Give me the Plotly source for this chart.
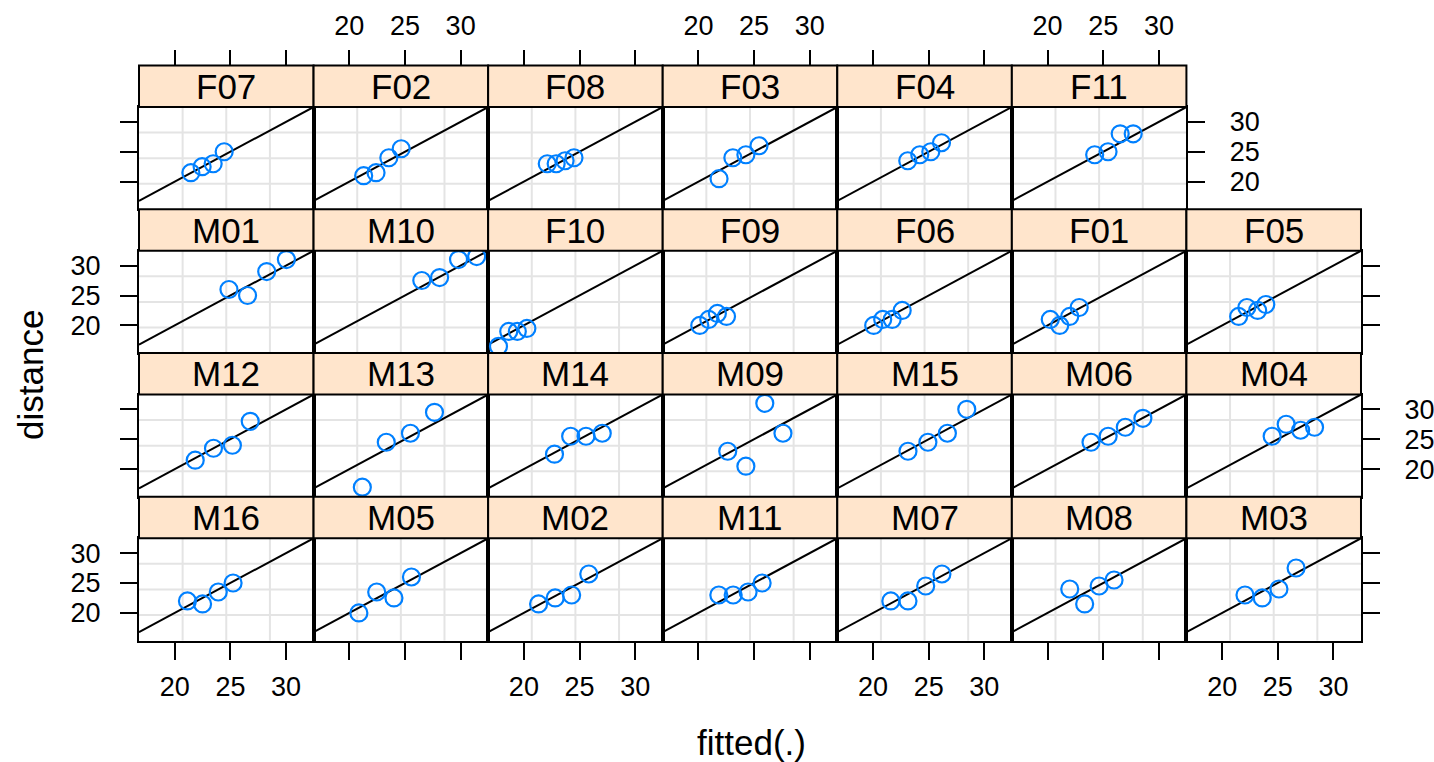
import plotly.graph_objects as go

# ---------------- data (Orthodont: distance vs fitted, by Subject) ----------------
subjects = ["F07", "F02", "F08", "F03", "F04", "F11",
            "M01", "M10", "F10", "F09", "F06", "F01", "F05",
            "M12", "M13", "M14", "M09", "M15", "M06", "M04",
            "M16", "M05", "M02", "M11", "M07", "M08", "M03"]

fitted_age8 = [21.45, 21.29, 22.10, 21.85, 23.12, 24.23,
               24.87, 26.51, 17.72, 20.12, 20.06, 20.24, 21.48,
               21.84, 21.17, 22.75, 22.63, 23.14, 23.90, 24.49,
               21.14, 20.86, 21.32, 21.83, 21.60, 21.99, 22.05]
fitted_age10 = [22.46, 22.40, 22.90, 23.09, 24.20, 25.43,
                26.54, 28.11, 18.64, 20.93, 20.87, 21.09, 22.22,
                23.48, 23.32, 24.20, 24.26, 24.93, 25.44, 25.75,
                22.50, 22.46, 22.81, 23.12, 23.14, 23.33, 23.60]
fitted_age12 = [23.45, 23.55, 23.70, 24.26, 25.19, 26.52,
                28.26, 29.81, 19.41, 21.70, 21.72, 21.99, 23.19,
                25.18, 25.49, 25.58, 25.96, 26.68, 26.98, 27.05,
                23.91, 24.01, 24.29, 24.46, 24.73, 24.63, 25.10]
fitted_age14 = [24.44, 24.66, 24.50, 25.44, 26.15, 27.69,
                30.03, 31.44, 20.27, 22.52, 22.62, 22.84, 23.92,
                26.78, 27.65, 27.04, 27.59, 28.42, 28.56, 28.30,
                25.24, 25.58, 25.83, 25.72, 26.19, 25.97, 26.64]

distance_age8 = [21.5, 21, 23, 20.5, 23.5, 24.5,
                 26, 27.5, 16.5, 20, 20, 21, 21.5,
                 21.5, 17, 22.5, 23, 23, 24.5, 25.5,
                 22, 20, 21.5, 23, 22, 24, 23]
distance_age10 = [22.5, 21.5, 23, 24, 24.5, 25,
                  25, 28, 19, 21, 21, 20, 23,
                  23.5, 24.5, 25.5, 20.5, 24.5, 25.5, 27.5,
                  21.5, 23.5, 22.5, 23, 22, 21.5, 22.5]
distance_age12 = [23, 24, 23.5, 24.5, 25, 28,
                  29, 31, 19, 22, 21, 21.5, 22.5,
                  24, 26, 25.5, 31, 26, 27, 26.5,
                  23.5, 22.5, 23, 23.5, 24.5, 24.5, 24]
distance_age14 = [25, 25.5, 24, 26, 26.5, 28,
                  31, 31.5, 19.5, 21.5, 22.5, 23, 23.5,
                  28, 29.5, 26, 26, 30, 28.5, 27,
                  25, 26, 26.5, 25, 26.5, 25.5, 27.5]

panels_per_row = [6, 7, 7, 7]          # lattice layout, top row first
tick_values = [20, 25, 30]
x_range = [16.79, 32.47]
y_range = [15.40, 32.47]

# ---------------- layout geometry / styles ----------------
W, H = 1434, 762
col_left0, col_w = 139.0, 174.57
row_top0, row_h, strip_h = 65.5, 143.75, 41.5
FONT = "Liberation Sans, Arial, Helvetica, sans-serif"
STRIP_BG = "#FFE5CC"
PT_COL = "#0080ff"
GRID_COL = "#e4e4e4"
BORDER_W = 2
TICK_FONT = dict(family=FONT, size=27, color="black")

fig = go.Figure()
shapes, annotations, layout_axes = [], [], {}

n_panels = sum(panels_per_row)
extra_k = n_panels  # index counter for extra (top tick) axes

idx = 0
for r, n in enumerate(panels_per_row):
    last_row = r == len(panels_per_row) - 1
    for c in range(n):
        k = idx + 1
        xa = "x" if k == 1 else f"x{k}"
        ya = "y" if k == 1 else f"y{k}"
        L = col_left0 + c * col_w
        R = L + col_w
        S = row_top0 + r * row_h
        P = S + strip_h
        B = S + row_h

        xs = [fitted_age8[idx], fitted_age10[idx], fitted_age12[idx], fitted_age14[idx]]
        ys = [distance_age8[idx], distance_age10[idx], distance_age12[idx], distance_age14[idx]]

        # abline y = x across the panel
        fig.add_trace(go.Scatter(x=x_range, y=x_range, mode="lines",
                                 line=dict(color="black", width=2),
                                 xaxis=xa, yaxis=ya, hoverinfo="skip", showlegend=False))
        fig.add_trace(go.Scatter(x=xs, y=ys, mode="markers",
                                 marker=dict(symbol="circle-open", size=17, color=PT_COL,
                                             line=dict(width=2.2, color=PT_COL)),
                                 xaxis=xa, yaxis=ya, showlegend=False, name=subjects[idx]))

        # x axis (panel)
        xkw = dict(domain=[L / W, R / W], range=x_range, anchor=ya, showgrid=False,
                   zeroline=False, showline=True, mirror=True, linecolor="black",
                   linewidth=BORDER_W, tickvals=tick_values, ticks="", showticklabels=False,
                   tickfont=TICK_FONT, ticklen=17, tickwidth=2, tickcolor="black",
                   fixedrange=True)
        if last_row:
            xkw.update(side="bottom", ticks="outside", showticklabels=(c % 2 == 0),
                       ticklabelstandoff=4)
        layout_axes["xaxis" if k == 1 else f"xaxis{k}"] = xkw

        # top ticks sit above the strip: extra free axis
        if r == 0:
            extra_k += 1
            xe = f"x{extra_k}"
            layout_axes[f"xaxis{extra_k}"] = dict(
                domain=[L / W, R / W], range=x_range, overlaying=xa, anchor="free",
                position=1 - S / H, side="top", showgrid=False, zeroline=False,
                showline=False, tickvals=tick_values, ticks="outside", ticklen=16,
                tickwidth=2, tickcolor="black", showticklabels=(c % 2 == 1),
                tickfont=TICK_FONT, ticklabelstandoff=4, fixedrange=True)
            fig.add_trace(go.Scatter(x=[None], y=[None], mode="markers", xaxis=xe,
                                     yaxis=ya, showlegend=False, hoverinfo="skip"))

        # y axis
        ykw = dict(domain=[1 - B / H, 1 - P / H], range=y_range, anchor=xa, showgrid=False,
                   zeroline=False, showline=True, mirror=True, linecolor="black",
                   linewidth=BORDER_W, tickvals=tick_values, ticks="", showticklabels=False,
                   tickfont=TICK_FONT, ticklen=17, tickwidth=2, tickcolor="black",
                   fixedrange=True)
        if c == 0:
            ykw.update(side="left", ticks="outside", showticklabels=(r in (1, 3)),
                       ticklabelstandoff=14)
        elif c == n - 1:
            ykw.update(side="right", ticks="outside", showticklabels=(r in (0, 2)),
                       ticklabelstandoff=19)
        layout_axes["yaxis" if k == 1 else f"yaxis{k}"] = ykw

        # grid at panel quarters
        for q in (0.25, 0.5, 0.75):
            shapes.append(dict(type="line", xref=f"{xa} domain", yref=f"{ya} domain",
                               x0=q, x1=q, y0=0, y1=1, layer="below",
                               line=dict(color=GRID_COL, width=2)))
            shapes.append(dict(type="line", xref=f"{xa} domain", yref=f"{ya} domain",
                               x0=0, x1=1, y0=q, y1=q, layer="below",
                               line=dict(color=GRID_COL, width=2)))
        # strip
        shapes.append(dict(type="rect", xref="paper", yref="paper",
                           x0=L / W, x1=R / W, y0=1 - P / H, y1=1 - S / H,
                           fillcolor=STRIP_BG, line=dict(color="black", width=BORDER_W),
                           layer="above"))
        annotations.append(dict(text=subjects[idx], xref="paper", yref="paper",
                                x=(L + R) / 2 / W, y=1 - (S + P) / 2 / H,
                                xanchor="center", yanchor="middle", showarrow=False,
                                font=dict(family=FONT, size=35, color="black")))
        idx += 1

annotations.append(dict(text="fitted(.)", xref="paper", yref="paper",
                        x=751 / W, y=1 - 742 / H, xanchor="center", yanchor="middle",
                        showarrow=False, font=dict(family=FONT, size=35, color="black")))
annotations.append(dict(text="distance", xref="paper", yref="paper",
                        x=30 / W, y=1 - 375 / H, xanchor="center", yanchor="middle",
                        textangle=-90, showarrow=False,
                        font=dict(family=FONT, size=35, color="black")))

fig.update_layout(width=W, height=H, margin=dict(l=0, r=0, t=0, b=0),
                  paper_bgcolor="white", plot_bgcolor="white",
                  shapes=shapes, annotations=annotations, showlegend=False,
                  **layout_axes)

fig.write_html("out.html", config={"displayModeBar": False})
